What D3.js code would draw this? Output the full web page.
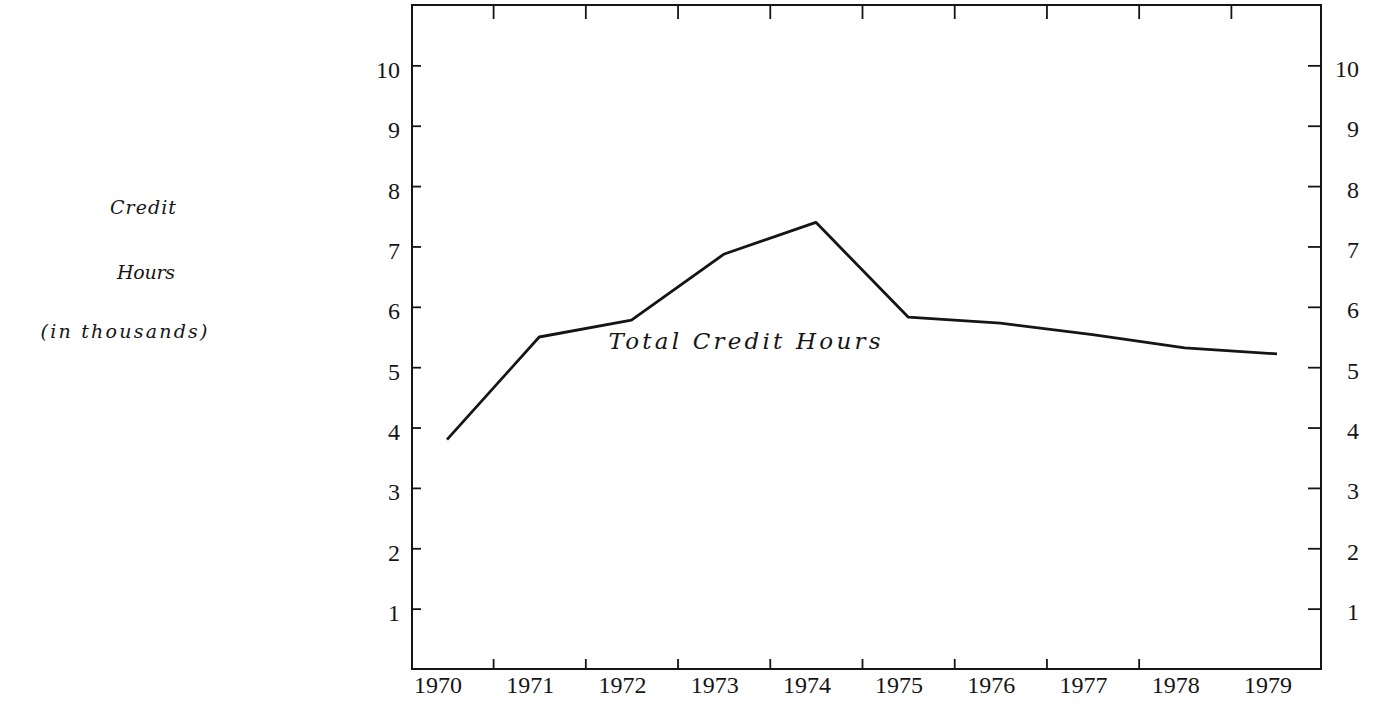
<!DOCTYPE html>
<html>
<head>
<meta charset="utf-8">
<script src="https://cdn.jsdelivr.net/npm/d3@7"></script>
<style>
  html, body { margin: 0; padding: 0; background: #fff; }
  svg { display: block; }
</style>
</head>
<body>
<script>
// ---- data ----
const years = [1970, 1971, 1972, 1973, 1974, 1975, 1976, 1977, 1978, 1979];
const creditHours = [3.8, 5.5, 5.78, 6.87, 7.4, 5.83, 5.73, 5.54, 5.32, 5.22];
const yTicks = [1, 2, 3, 4, 5, 6, 7, 8, 9, 10];
const topTicks = [1970.5, 1971.5, 1972.5, 1973.5, 1974.5, 1975.5, 1976.5, 1977.5, 1978.5];
const bottomTicks = [1970.5, 1971.5, 1972.5, 1973.5, 1974.5, 1975.5, 1976.5, 1977.5];
const seriesLabel = "Total Credit Hours";
const axisTitle = ["Credit", "Hours", "(in thousands)"];

// ---- layout ----
const W = 1373, H = 706;
const frame = { left: 412, right: 1321, top: 5, bottom: 669 };

const svg = d3.select("body").append("svg").attr("width", W).attr("height", H);

const x = d3.scaleLinear().domain([1970, 1979]).range([447, 1277]);
const y = d3.scaleLinear().domain([0, 11]).range([frame.bottom, frame.top]);

const numFont = "'Liberation Serif', serif";
const typeFont = "'DejaVu Serif', serif";
const ink = "#151515";

// frame
svg.append("rect")
  .attr("x", frame.left).attr("y", frame.top)
  .attr("width", frame.right - frame.left).attr("height", frame.bottom - frame.top)
  .attr("fill", "none").attr("stroke", ink).attr("stroke-width", 2);

// left axis (ticks inward)
const leftAxis = d3.axisRight(y).tickValues(yTicks).tickSize(9).tickFormat("");
svg.append("g").attr("transform", `translate(${frame.left},0)`).call(leftAxis)
  .call(g => g.select(".domain").remove())
  .call(g => g.selectAll("line").attr("stroke", ink).attr("stroke-width", 1.8));
svg.append("g").selectAll("text").data(yTicks).join("text")
  .attr("x", frame.left - 12).attr("y", d => y(d)).attr("dy", "0.52em")
  .attr("text-anchor", "end").attr("font-family", numFont).attr("font-size", 24)
  .attr("fill", ink).text(d => d);

// right axis (ticks inward)
const rightAxis = d3.axisLeft(y).tickValues(yTicks).tickSize(13).tickFormat("");
svg.append("g").attr("transform", `translate(${frame.right},0)`).call(rightAxis)
  .call(g => g.select(".domain").remove())
  .call(g => g.selectAll("line").attr("stroke", ink).attr("stroke-width", 1.8));
svg.append("g").selectAll("text").data(yTicks).join("text")
  .attr("x", frame.right + 38).attr("y", d => y(d)).attr("dy", "0.48em")
  .attr("text-anchor", "end").attr("font-family", numFont).attr("font-size", 24)
  .attr("fill", ink).text(d => d);

// top ticks (pointing down)
const topAxis = d3.axisBottom(x).tickValues(topTicks).tickSize(14).tickFormat("");
svg.append("g").attr("transform", `translate(0,${frame.top})`).call(topAxis)
  .call(g => g.select(".domain").remove())
  .call(g => g.selectAll("line").attr("stroke", ink).attr("stroke-width", 1.8));

// bottom ticks (pointing up)
const bottomAxis = d3.axisTop(x).tickValues(bottomTicks).tickSize(10).tickFormat("");
svg.append("g").attr("transform", `translate(0,${frame.bottom})`).call(bottomAxis)
  .call(g => g.select(".domain").remove())
  .call(g => g.selectAll("line").attr("stroke", ink).attr("stroke-width", 1.8));

// year labels
svg.append("g").selectAll("text").data(years).join("text")
  .attr("x", d => x(d) - 9).attr("y", frame.bottom + 24)
  .attr("text-anchor", "middle").attr("font-family", numFont).attr("font-size", 24)
  .attr("fill", ink).text(d => d);

// line
const line = d3.line().x((d, i) => x(years[i])).y(d => y(d));
svg.append("path").datum(creditHours)
  .attr("d", line).attr("fill", "none").attr("stroke", ink)
  .attr("stroke-width", 2.8).attr("stroke-linejoin", "round");

// series label
svg.append("text")
  .attr("x", x(1972) - 23).attr("y", y(5.3))
  .attr("font-family", typeFont).attr("font-style", "italic").attr("font-size", 23)
  .attr("textLength", 272).attr("lengthAdjust", "spacing")
  .attr("fill", ink).text(seriesLabel);

// left axis title
const titleCx = [143, 146, 124];
const titleYs = [207, 272, 331];
const titleW = [66, 58, 167];
svg.append("g").selectAll("text").data(axisTitle).join("text")
  .attr("x", (d, i) => titleCx[i] - titleW[i] / 2).attr("y", (d, i) => titleYs[i]).attr("dy", "0.35em")
  .attr("textLength", (d, i) => titleW[i]).attr("lengthAdjust", "spacing")
  .attr("font-family", typeFont).attr("font-style", "italic")
  .attr("font-size", 19).attr("fill", ink).text(d => d);
</script>
</body>
</html>
